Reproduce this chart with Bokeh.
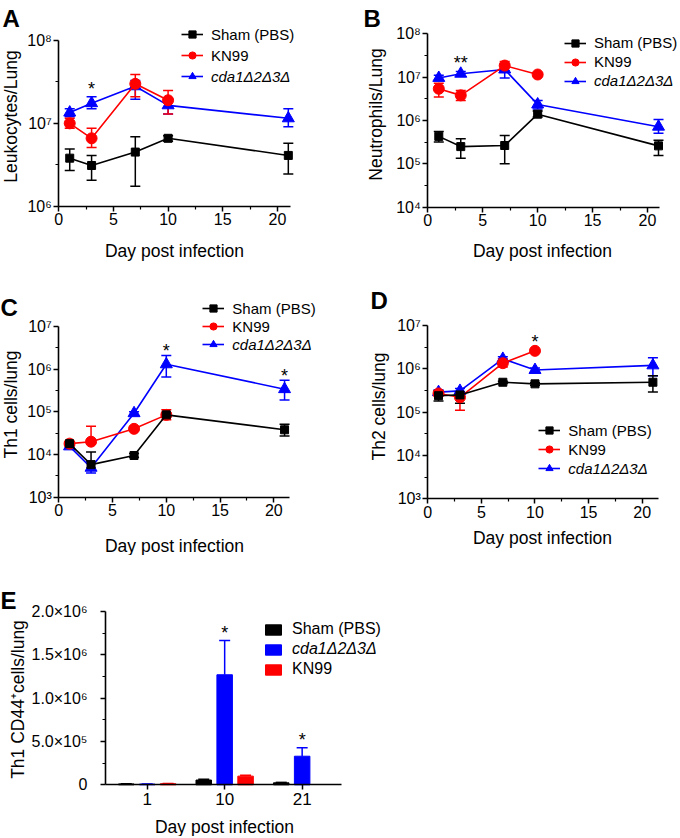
import numpy as np
from bokeh.plotting import figure
from bokeh.models import (ColumnDataSource, Whisker, TeeHead, FixedTicker,
                          CustomJSTickFormatter, Legend, LegendItem, Label, Range1d)
from bokeh.layouts import column, row
from bokeh.embed import file_html
from bokeh.resources import INLINE

FONT = "Liberation Sans"
BLACK, RED, BLUE = "#000000", "#ff0000", "#0000ff"
SHAM, KN99, CDA = "Sham (PBS)", "KN99", "cda1Δ2Δ3Δ"
XLABEL = "Day post infection"

days = [1, 3, 7, 10, 21]
days_kn99 = [1, 3, 7, 10]

# ---- Panel A: Leukocytes/Lung
a_sham = [3.8e6, 3.1e6, 4.5e6, 6.6e6, 4.1e6]
a_sham_hi = [4.9e6, 4.1e6, 6.9e6, 7.1e6, 5.75e6]
a_sham_lo = [2.7e6, 2.05e6, 1.74e6, 6.1e6, 2.45e6]
a_kn99 = [1.0e7, 6.6e6, 3.0e7, 1.9e7]
a_kn99_hi = [1.15e7, 8.7e6, 3.9e7, 2.5e7]
a_kn99_lo = [8.7e6, 5.1e6, 2.1e7, 1.3e7]
a_cda = [1.35e7, 1.75e7, 2.8e7, 1.65e7, 1.15e7]
a_cda_hi = [1.5e7, 2.1e7, 3.3e7, 2.0e7, 1.5e7]
a_cda_lo = [1.2e7, 1.5e7, 1.95e7, 1.3e7, 9.1e6]

# ---- Panel B: Neutrophils/Lung
b_sham = [4.3e5, 2.5e5, 2.65e5, 1.4e6, 2.6e5]
b_sham_hi = [5.6e5, 3.8e5, 4.5e5, 1.65e6, 3.5e5]
b_sham_lo = [3.2e5, 1.35e5, 1.0e5, 1.2e6, 1.55e5]
b_kn99 = [5.4e6, 3.8e6, 1.85e7, 1.15e7]
b_kn99_hi = [7.2e6, 4.9e6, 2.3e7, 1.25e7]
b_kn99_lo = [3.5e6, 2.9e6, 1.4e7, 1.05e7]
b_cda = [9.6e6, 1.2e7, 1.5e7, 2.35e6, 7.2e5]
b_cda_hi = [1.1e7, 1.35e7, 2.05e7, 2.9e6, 1.05e6]
b_cda_lo = [8.5e6, 1.05e7, 9.5e6, 1.85e6, 5.1e5]

# ---- Panel C: Th1 cells/lung
c_sham = [1.8e4, 5.8e3, 9.5e3, 8.5e4, 3.8e4]
c_sham_hi = [2.0e4, 1.15e4, 1.05e4, 9.5e4, 5.1e4]
c_sham_lo = [1.6e4, 4.8e3, 8.6e3, 7.6e4, 2.7e4]
c_kn99 = [1.8e4, 2.0e4, 4.0e4, 8.5e4]
c_kn99_hi = [2.0e4, 4.6e4, 4.4e4, 1.12e5]
c_kn99_lo = [1.6e4, 1.8e4, 3.6e4, 6.5e4]
c_cda = [1.55e4, 4.9e3, 9.3e4, 1.3e6, 3.4e5]
c_cda_hi = [1.7e4, 6.9e3, 1.0e5, 2.1e6, 5.5e5]
c_cda_lo = [1.4e4, 3.7e3, 8.6e4, 6.6e5, 1.9e5]

# ---- Panel D: Th2 cells/lung
d_sham = [2.4e5, 2.5e5, 4.9e5, 4.5e5, 4.9e5]
d_sham_hi = [3.1e5, 2.9e5, 5.2e5, 4.8e5, 6.9e5]
d_sham_lo = [1.8e5, 1.6e5, 4.6e5, 4.2e5, 2.9e5]
d_kn99 = [2.7e5, 2.2e5, 1.35e6, 2.6e6]
d_kn99_hi = [3.0e5, 2.5e5, 1.7e6, 2.8e6]
d_kn99_lo = [2.4e5, 1.1e5, 1.1e6, 2.4e6]
d_cda = [2.9e5, 3.1e5, 1.7e6, 9.4e5, 1.2e6]
d_cda_hi = [3.3e5, 3.5e5, 1.9e6, 1.05e6, 1.8e6]
d_cda_lo = [2.6e5, 2.8e5, 1.5e6, 8.4e5, 6.9e5]

# ---- Panel E: Th1 CD44+ cells/lung (bar chart)
e_groups = ["1", "10", "21"]
e_sham = [1.0e4, 5.5e4, 2.3e4]
e_sham_err = [3e3, 8e3, 5e3]
e_cda = [8e3, 1.27e6, 3.3e5]
e_cda_err = [2e3, 3.95e5, 9.7e4]
e_kn99 = [1.2e4, 1.0e5, np.nan]
e_kn99_err = [3e3, 1.0e4, np.nan]

SUP_JS = "const s=['\u2070','\u00b9','\u00b2','\u00b3','\u2074','\u2075','\u2076','\u2077','\u2078','\u2079'];"
LAB = "17.5px"


class Panel:
    """A figure whose frame fills the whole canvas; axes sit at fixed data locations."""

    def __init__(self, ox, oy, W, H, xdata, xpage, ydata, ypage, ylog):
        self.ox, self.oy, self.W, self.H = ox, oy, W, H
        kx = (xdata[1] - xdata[0]) / (xpage[1] - xpage[0])
        xr = Range1d(xdata[0] - (xpage[0] - ox) * kx, xdata[0] + (ox + W - xpage[0]) * kx)
        t = np.log10 if ylog else (lambda v: v)
        ky = (t(ydata[1]) - t(ydata[0])) / (ypage[0] - ypage[1])
        lo = t(ydata[0]) - (oy + H - ypage[0]) * ky
        hi = t(ydata[0]) + (ypage[0] - oy) * ky
        if ylog:
            lo, hi = 10 ** lo, 10 ** hi
        p = figure(width=W, height=H, min_border=0, x_range=xr, y_range=Range1d(lo, hi),
                   y_axis_type="log" if ylog else "linear",
                   output_backend="svg", toolbar_location=None, title=None)
        p.outline_line_color = None
        p.xgrid.visible = False
        p.ygrid.visible = False
        p.xaxis.fixed_location = ydata[0]
        p.yaxis.fixed_location = xdata[0]
        p.xaxis.bounds = (xdata[0], xdata[1])
        p.yaxis.bounds = (ydata[0], ydata[1])
        for ax in (p.xaxis[0], p.yaxis[0]):
            ax.axis_line_width = 1.6
            ax.axis_line_color = BLACK
            ax.major_tick_line_color = BLACK
            ax.major_tick_line_width = 1.5
            ax.minor_tick_line_color = BLACK
            ax.minor_tick_line_width = 1.2
            ax.major_tick_in = 0
            ax.major_tick_out = 5
            ax.minor_tick_in = 0
            ax.minor_tick_out = 3
            ax.major_label_text_font = FONT
            ax.major_label_text_color = BLACK
            ax.major_label_text_font_size = "16px"
        p.xaxis.major_label_standoff = 2
        p.yaxis.major_label_standoff = 2
        self.p = p

    def sx(self, px):
        return px - self.ox

    def sy(self, py):
        return self.oy + self.H - py

    def text(self, txt, px, py, size=LAB, bold=False, vertical=False,
             align="center", baseline="middle"):
        self.p.add_layout(Label(x=self.sx(px), y=self.sy(py), x_units="screen",
                                y_units="screen", text=txt, text_font=FONT,
                                text_font_size=size,
                                text_font_style="bold" if bold else "normal",
                                text_color=BLACK, text_align=align,
                                text_baseline=baseline,
                                angle=np.pi / 2 if vertical else 0))

    def legend(self, items, left_px, top_px, italic=False, gw=22, gh=18, standoff=8,
               spacing=2, size="15px"):
        n = len(items)
        height = n * gh + (n - 1) * spacing
        self.p.add_layout(Legend(
            items=items, location=(self.sx(left_px), self.sy(top_px + height)),
            glyph_width=gw, glyph_height=gh, label_height=gh, label_standoff=standoff,
            spacing=spacing, padding=0, margin=0, border_line_color=None,
            background_fill_alpha=0, label_text_font=FONT, label_text_font_size=size,
            label_text_color=BLACK,
            label_text_font_style="italic" if italic else "normal"))


def log_ticks(p, e0, e1):
    p.xaxis.ticker = FixedTicker(ticks=[0, 5, 10, 15, 20], minor_ticks=[2.5, 7.5, 12.5, 17.5])
    p.yaxis.ticker = FixedTicker(ticks=[10.0 ** k for k in range(e0, e1 + 1)],
                                 minor_ticks=[10.0 ** (k + 0.5) for k in range(e0, e1)])
    p.yaxis.formatter = CustomJSTickFormatter(
        code=SUP_JS + "const e=Math.round(Math.log10(tick)); return '10'+s[e];")


def series(p, x, y, lo, hi, color, marker, size):
    src = ColumnDataSource(dict(x=x, y=y, lo=lo, hi=hi))
    p.add_layout(Whisker(source=src, base="x", upper="hi", lower="lo",
                         line_color=color, line_width=1.5,
                         upper_head=TeeHead(size=10, line_color=color, line_width=1.5),
                         lower_head=TeeHead(size=10, line_color=color, line_width=1.5)))
    l = p.line("x", "y", source=src, line_color=color, line_width=1.6)
    s = p.scatter("x", "y", source=src, marker=marker, size=size,
                  fill_color=color, line_color=color)
    return [l, s]


def build(p, sham, sham_lo, sham_hi, kn, kn_lo, kn_hi, cda, cda_lo, cda_hi):
    rs = {}
    rs["cda"] = series(p, days, cda, cda_lo, cda_hi, BLUE, "triangle", 12)
    rs["kn99"] = series(p, days_kn99, kn, kn_lo, kn_hi, RED, "circle", 11)
    rs["sham"] = series(p, days, sham, sham_lo, sham_hi, BLACK, "square", 8)
    return rs


def line_legends(P, rs, gx, ty, pitch):
    h = 18
    sp = pitch - h
    left = gx - 11
    P.legend([LegendItem(label=SHAM, renderers=rs["sham"]),
              LegendItem(label=KN99, renderers=rs["kn99"])], left, ty - h / 2, spacing=sp)
    P.legend([LegendItem(label=CDA, renderers=rs["cda"])], left, ty + 2 * pitch - h / 2,
             italic=True)


def stars(p, xs, ys, txt, off, size="18px"):
    p.text(x=xs, y=ys, text=[txt] * len(xs), text_font=dict(value=FONT),
           text_font_size=dict(value=size), text_align="center", text_baseline="middle",
           y_offset=-(off - 4.5), text_color=BLACK)


def letter(P, txt, px, py):
    P.text(txt, px, py, size="24px", bold=True, align="left", baseline="alphabetic")


# ---- A
A = Panel(0, 0, 340, 270, (0, 21.2), (58.3, 290), (1e6, 1e8), (205.7, 40), True)
log_ticks(A.p, 6, 8)
rsA = build(A.p, a_sham, a_sham_lo, a_sham_hi, a_kn99, a_kn99_lo, a_kn99_hi,
            a_cda, a_cda_lo, a_cda_hi)
line_legends(A, rsA, 192, 34, 21)
stars(A.p, [days[1]], [a_cda_hi[1]], "*", 12)
A.text("Leukocytes/Lung", 10, 116, vertical=True)
A.text(XLABEL, 174, 250)
letter(A, "A", 2, 18)

# ---- B
B = Panel(340, 0, 340, 270, (0, 21.1), (427.3, 659.1), (1e4, 1e8), (206.7, 33.3), True)
log_ticks(B.p, 4, 8)
rsB = build(B.p, b_sham, b_sham_lo, b_sham_hi, b_kn99, b_kn99_lo, b_kn99_hi,
            b_cda, b_cda_lo, b_cda_hi)
line_legends(B, rsB, 575, 42.7, 19)
stars(B.p, [days[1]], [b_cda_hi[1]], "**", 13)
B.text("Neutrophils/Lung", 375, 114, vertical=True)
B.text(XLABEL, 542, 250)
letter(B, "B", 363, 18)

# ---- C
C = Panel(0, 270, 340, 285, (0, 21.46), (58.3, 289), (1e3, 1e7), (496.7, 326), True)
log_ticks(C.p, 3, 7)
rsC = build(C.p, c_sham, c_sham_lo, c_sham_hi, c_kn99, c_kn99_lo, c_kn99_hi,
            c_cda, c_cda_lo, c_cda_hi)
line_legends(C, rsC, 213.3, 308.3, 18)
stars(C.p, [days[3], days[4]], [c_cda_hi[3], c_cda_hi[4]], "*", 9)
C.text("Th1 cells/lung", 10, 404, vertical=True)
C.text(XLABEL, 174, 545)
letter(C, "C", 0, 307)

# ---- D
D = Panel(340, 270, 340, 285, (0, 21.55), (427.3, 658.3), (1e3, 1e7), (498.3, 325), True)
log_ticks(D.p, 3, 7)
rsD = build(D.p, d_sham, d_sham_lo, d_sham_hi, d_kn99, d_kn99_lo, d_kn99_hi,
            d_cda, d_cda_lo, d_cda_hi)
line_legends(D, rsD, 549.3, 430, 19)
stars(D.p, [days_kn99[3]], [d_kn99_hi[3]], "*", 12)
D.text("Th2 cells/lung", 378, 406, vertical=True)
D.text(XLABEL, 542, 537)
letter(D, "D", 370, 300)

# ---- E (bars)
pos = np.arange(1, len(e_groups) + 1)
E = Panel(0, 555, 680, 281, (0.462, 3.504), (105, 340.7), (0, 2e6), (784.3, 611), False)
pE = E.p
pE.xaxis.ticker = FixedTicker(ticks=list(pos), minor_ticks=[])
pE.xaxis.formatter = CustomJSTickFormatter(args=dict(labels=e_groups),
                                           code="return labels[Math.round(tick)-1] || '';")
pE.xaxis.major_label_text_font_size = "17px"
pE.xaxis.major_label_standoff = 3
pE.yaxis.ticker = FixedTicker(ticks=[0, 5e5, 1e6, 1.5e6, 2e6],
                              minor_ticks=[2.5e5, 7.5e5, 1.25e6, 1.75e6])
pE.yaxis.formatter = CustomJSTickFormatter(code=SUP_JS + """
if (tick == 0) return '0';
const e = Math.floor(Math.log10(tick) + 1e-9);
const m = tick / Math.pow(10, e);
return m.toFixed(1) + '\u00d710' + s[e];""")
pE.yaxis.major_label_standoff = 13

bar_rs = {}
for key, vals, errs, color, off in [("sham", e_sham, e_sham_err, BLACK, -0.27),
                                    ("cda", e_cda, e_cda_err, BLUE, 0.0),
                                    ("kn99", e_kn99, e_kn99_err, RED, 0.27)]:
    v = np.array(vals, dtype=float)
    er = np.array(errs, dtype=float)
    ok = np.isfinite(v)
    src = ColumnDataSource(dict(x=(pos + off)[ok], top=v[ok], hi=(v + er)[ok], lo=v[ok]))
    pE.add_layout(Whisker(source=src, base="x", upper="hi", lower="lo",
                          line_color=color, line_width=1.5,
                          upper_head=TeeHead(size=11, line_color=color, line_width=1.5),
                          lower_head=None, level="glyph"))
    bar_rs[key] = pE.vbar(x="x", top="top", bottom=0, width=0.2, source=src,
                          fill_color=color, line_color=color)

eh = 13
E.legend([LegendItem(label=SHAM, renderers=[bar_rs["sham"]])], 263, 631.7 - eh / 2,
         gw=20, gh=eh, standoff=9, size="16px")
E.legend([LegendItem(label=CDA, renderers=[bar_rs["cda"]])], 263, 651.7 - eh / 2,
         italic=True, gw=20, gh=eh, standoff=9, size="16px")
E.legend([LegendItem(label=KN99, renderers=[bar_rs["kn99"]])], 263, 671.7 - eh / 2,
         gw=20, gh=eh, standoff=9, size="16px")
stars(pE, [pos[1], pos[2]], [e_cda[1] + e_cda_err[1], e_cda[2] + e_cda_err[2]], "*", 12)
E.text("Th1 CD44\u207acells/lung", 17, 699, vertical=True)
E.text(XLABEL, 224, 826)
letter(E, "E", 0, 600)

layout = column(row(A.p, B.p), row(C.p, D.p), E.p)
open("out.html", "w").write(file_html(layout, INLINE))
